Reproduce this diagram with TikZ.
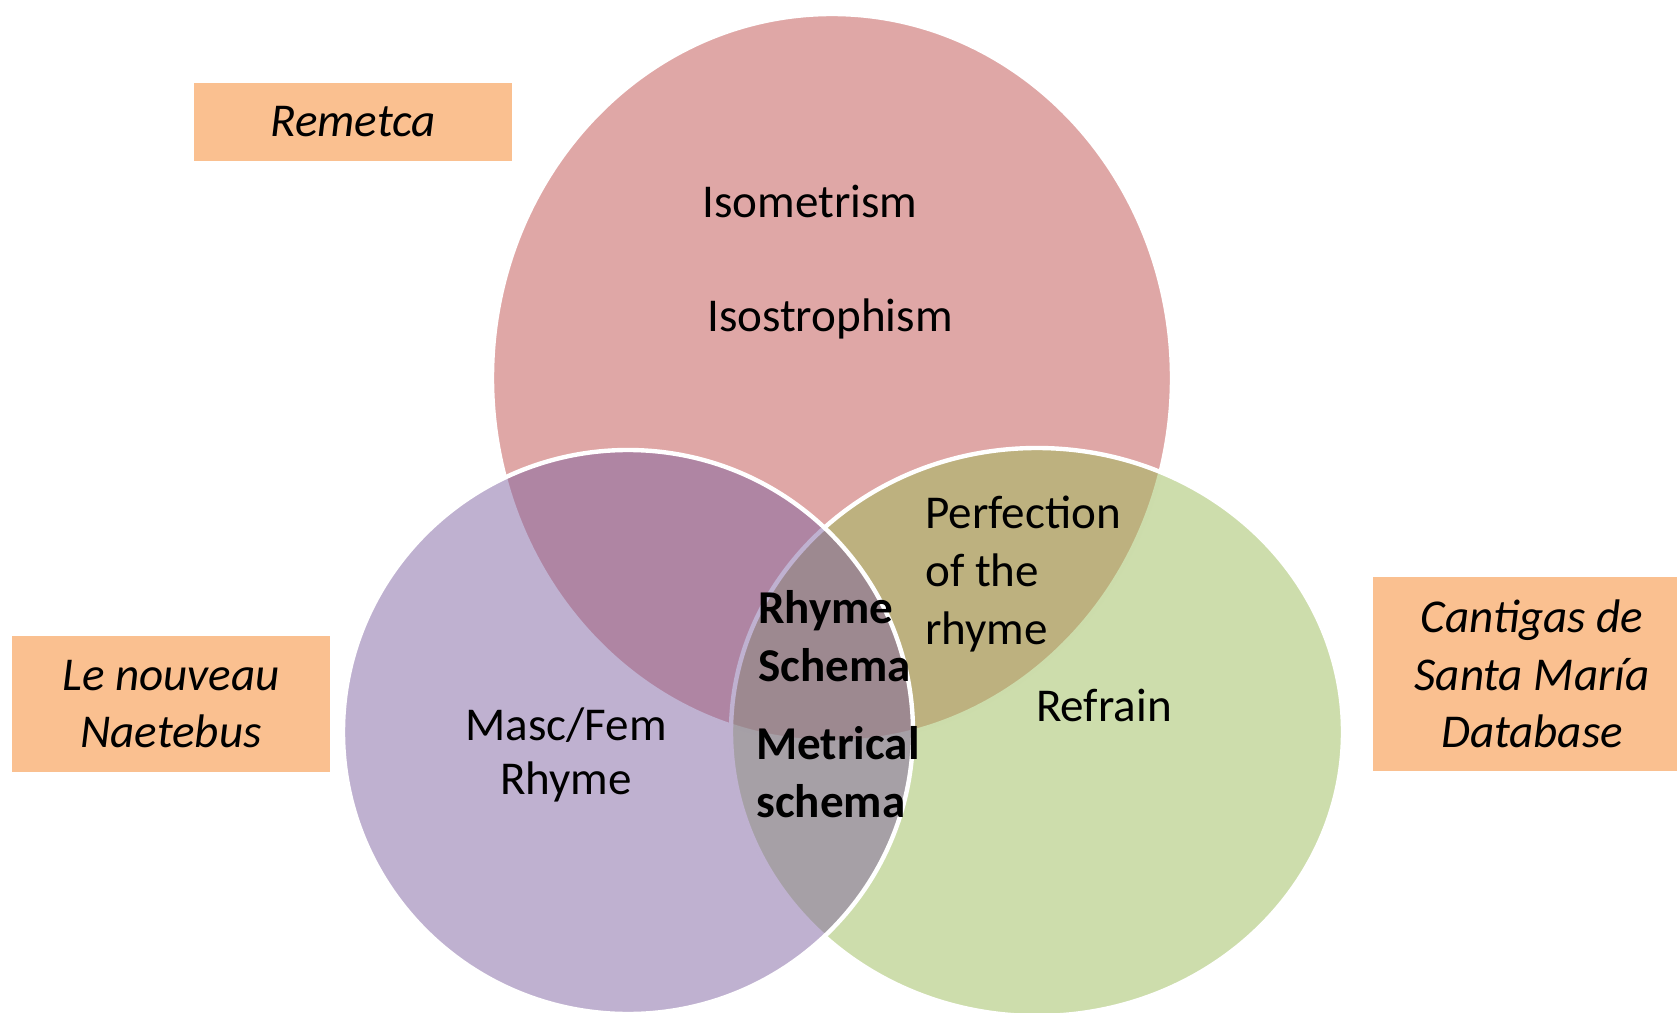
\documentclass[tikz,border=0pt]{standalone}
\usepackage{fontspec}
\setmainfont{Carlito}
\definecolor{vennred}{HTML}{C0504D}
\definecolor{venngreen}{HTML}{9BBB59}
\definecolor{vennpurple}{HTML}{8064A2}
\definecolor{dbbox}{HTML}{FAC090}
\begin{document}
\begin{tikzpicture}[x=0.02cm, y=-0.02cm,
    venn/.style={fill opacity=0.5, draw=white, line width=2.5pt},
    venntext/.style={font=\fontsize{26.8}{32.8}\selectfont, inner sep=0pt, align=left},
    srcbox/.style={fill=dbbox, font=\fontsize{26.8}{32.8}\selectfont\itshape, inner sep=0pt, align=center}]
    \useasboundingbox (0,0) rectangle (1677,1013);

    % Draw the three overlapping sets
    \foreach \cx/\cy/\rx/\ry/\col in {832/378/340/364/vennred, 1037/732/306/284/venngreen, 628/732/285/282/vennpurple}
        \draw[venn, fill=\col] (\cx,\cy) ellipse [x radius=\rx, y radius=\ry];

    % Features inside the sets
    \node[venntext] (isomet) at (810,201) {Isometrism};
    \node[venntext] (isostr) at (830,319) {Isostrophism};
    \node[venntext, anchor=west] (perfect) at (925,574) {Perfection\\of the\\rhyme};
    \node[venntext, anchor=west, font=\fontsize{26.8}{32.8}\selectfont\bfseries] (schema) at (758,636) {Rhyme\\Schema};
    \node[venntext, anchor=west, font=\fontsize{26.8}{32.8}\selectfont\bfseries] (metric) at (756,772) {Metrical\\schema};
    \node[venntext, align=center] (mascfem) at (566,755) {Masc/Fem\\[-2.4pt]Rhyme};
    \node[venntext] (refrain) at (1104,705) {Refrain};

    % Databases
    \node[srcbox, minimum width=6.36cm, minimum height=1.56cm] (remetca) at (353,122) {Remetca};
    \node[srcbox, minimum width=6.36cm, minimum height=2.72cm] (naetebus) at (171,704) {Le nouveau\\Naetebus};
    \node[srcbox, minimum width=6.36cm, minimum height=3.88cm] (cantigas) at (1532,674) {Cantigas de\\Santa María\\Database};
\end{tikzpicture}
\end{document}
